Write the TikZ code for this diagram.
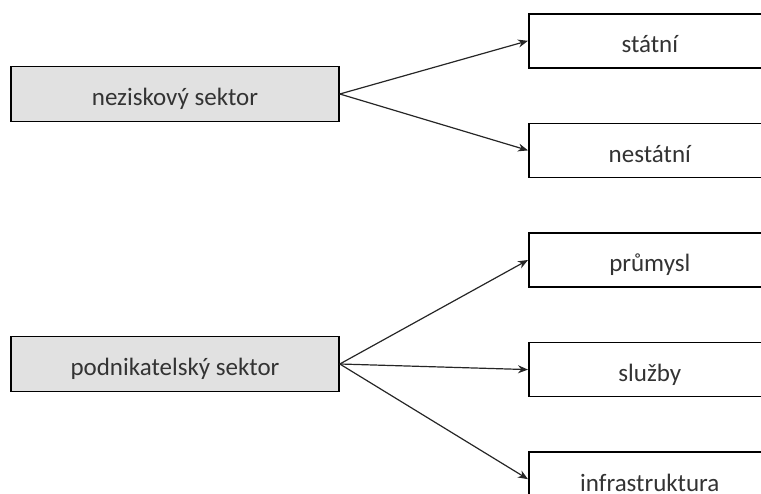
\documentclass[tikz,border=0pt]{standalone}
\usepackage{fontspec}
\setmainfont{Carlito}
\usepackage{tikz}
\usetikzlibrary{arrows.meta,positioning}
\definecolor{sektorfill}{HTML}{E1E1E1}
\definecolor{txtgray}{HTML}{333333}
\tikzset{
  sektor/.style={rectangle,minimum width=328pt,minimum height=55pt,
    draw=black,fill=sektorfill,text=txtgray,line width=1.6pt,
    font=\fontsize{25}{29}\selectfont,text height=25pt,text depth=1pt},
  druh/.style={rectangle,minimum width=242pt,minimum height=54pt,
    draw=black,fill=white,text=txtgray,line width=1.6pt,
    font=\fontsize{25}{29}\selectfont,text height=25pt,text depth=1pt},
  sip/.style={-{Stealth[length=10pt,width=8pt]},line width=1.2pt,black!85},
}

\begin{document}
\begin{tikzpicture}[node distance=54pt]
  \clip (0,0) rectangle (761pt,-494pt);
  % prava strana
  \node[druh,anchor=north west] (statni) at (528pt,-13pt) {státní};
  \node[druh,below=of statni] (nestatni) {nestátní};
  \node[druh,below=of nestatni] (prumysl) {průmysl};
  \node[druh,below=of prumysl] (sluzby) {služby};
  \node[druh,below=of sluzby] (infra) {infrastruktura};
  % leva strana
  \node[sektor] (nezisk) at (175pt,-94pt) {neziskový sektor};
  \node[sektor] (podnik) at (175pt,-364pt) {podnikatelský sektor};
  % sipky
  \draw[sip] (nezisk.east) -- (statni.west);
  \draw[sip] (nezisk.east) -- (nestatni.west);
  \draw[sip] (podnik.east) -- (prumysl.west);
  \draw[sip] (podnik.east) -- (sluzby.west);
  \draw[sip] (podnik.east) -- (infra.west);
\end{tikzpicture}
\end{document}
